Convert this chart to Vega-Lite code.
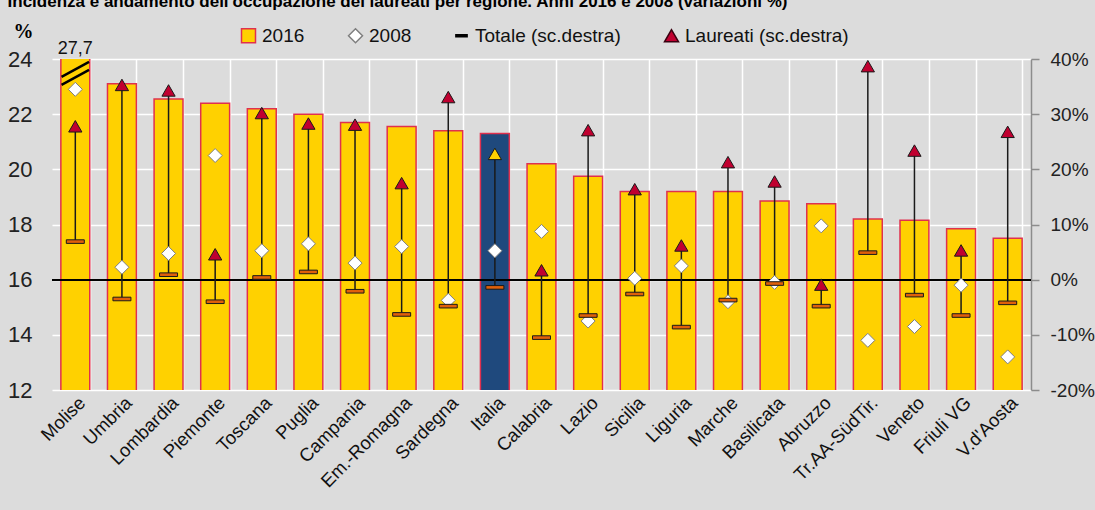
{
  "$schema": "https://vega.github.io/schema/vega-lite/v6.json",
  "width": 979,
  "height": 331,
  "autosize": {"type": "none"},
  "padding": {"left": 52, "top": 59, "right": 64, "bottom": 120},
  "background": "#DCDCDC",
  "title": {
    "text": "Incidenza e andamento dell'occupazione dei laureati per regione. Anni 2016 e 2008 (variazioni %)",
    "anchor": "start",
    "frame": "bounds",
    "font": "Liberation Sans",
    "fontSize": 17,
    "fontWeight": "bold",
    "color": "#000000",
    "dx": 0,
    "offset": 10
  },
  "config": {
    "locale": {"number": {"decimal": ",", "thousands": ".", "grouping": [3], "currency": ["", " €"]}},
    "view": {"stroke": null, "fill": "#DCDCDC"},
    "legend": {
      "orient": "none",
      "legendX": 187,
      "legendY": -33,
      "direction": "horizontal",
      "padding": 0,
      "labelFont": "Liberation Sans",
      "labelFontSize": 19,
      "labelColor": "#111111",
      "labelOffset": 4,
      "labelLimit": 400,
      "columnPadding": 40,
      "symbolSize": 196,
      "symbolStrokeWidth": 1.5
    }
  },
  "data": {
    "values": [
      {"region": "Molise", "v2016": 27.7, "v2008": 22.9, "tot": 6.9, "laur": 27.8},
      {"region": "Umbria", "v2016": 23.1, "v2008": 16.45, "tot": -3.5, "laur": 35.3},
      {"region": "Lombardia", "v2016": 22.55, "v2008": 16.95, "tot": 0.9, "laur": 34.3},
      {"region": "Piemonte", "v2016": 22.4, "v2008": 20.5, "tot": -4.0, "laur": 4.6},
      {"region": "Toscana", "v2016": 22.2, "v2008": 17.05, "tot": 0.4, "laur": 30.2},
      {"region": "Puglia", "v2016": 22.0, "v2008": 17.3, "tot": 1.4, "laur": 28.3},
      {"region": "Campania", "v2016": 21.7, "v2008": 16.6, "tot": -2.1, "laur": 28.1},
      {"region": "Em.-Romagna", "v2016": 21.55, "v2008": 17.2, "tot": -6.3, "laur": 17.5},
      {"region": "Sardegna", "v2016": 21.4, "v2008": 15.25, "tot": -4.8, "laur": 33.1},
      {"region": "Italia", "v2016": 21.3, "v2008": 17.05, "tot": -1.4, "laur": 22.8},
      {"region": "Calabria", "v2016": 20.2, "v2008": 17.75, "tot": -10.5, "laur": 1.7},
      {"region": "Lazio", "v2016": 19.75, "v2008": 14.5, "tot": -6.5, "laur": 27.1},
      {"region": "Sicilia", "v2016": 19.2, "v2008": 16.05, "tot": -2.6, "laur": 16.4},
      {"region": "Liguria", "v2016": 19.2, "v2008": 16.5, "tot": -8.6, "laur": 6.2},
      {"region": "Marche", "v2016": 19.2, "v2008": 15.2, "tot": -3.7, "laur": 21.3},
      {"region": "Basilicata", "v2016": 18.85, "v2008": 15.9, "tot": -0.7, "laur": 17.8},
      {"region": "Abruzzo", "v2016": 18.75, "v2008": 17.95, "tot": -4.8, "laur": -0.9},
      {"region": "Tr.AA-SüdTir.", "v2016": 18.2, "v2008": 13.8, "tot": 4.9, "laur": 38.7},
      {"region": "Veneto", "v2016": 18.15, "v2008": 14.3, "tot": -2.8, "laur": 23.4},
      {"region": "Friuli VG", "v2016": 17.85, "v2008": 15.8, "tot": -6.5, "laur": 5.3},
      {"region": "V.d'Aosta", "v2016": 17.5, "v2008": 13.2, "tot": -4.2, "laur": 26.8}
    ]
  },
  "encoding": {
    "x": {
      "field": "region",
      "type": "nominal",
      "sort": null,
      "scale": {"paddingInner": 0.38, "paddingOuter": 0.19},
      "axis": {
        "title": null,
        "domain": false,
        "ticks": false,
        "tickBand": "extent",
        "grid": true,
        "gridColor": "#FFFFFF",
        "gridWidth": 1.5,
        "labelAngle": -45,
        "labelAlign": "right",
        "labelBaseline": "top",
        "labelPadding": 3,
        "labelFont": "Liberation Sans",
        "labelFontSize": 18.5,
        "labelColor": "#111111"
      }
    }
  },
  "layer": [
    {
      "mark": {"type": "bar", "clip": true, "stroke": "#E0304E", "strokeWidth": 1.5},
      "encoding": {
        "y": {
          "field": "v2016",
          "type": "quantitative",
          "scale": {"domain": [12, 24], "zero": false, "nice": false},
          "axis": {
            "orient": "left",
            "values": [12, 14, 16, 18, 20, 22, 24],
            "domain": false,
            "ticks": false,
            "grid": true,
            "gridColor": "#FFFFFF",
            "gridWidth": 1.5,
            "labelFont": "Liberation Sans",
            "labelFontSize": 22,
            "labelColor": "#222222",
            "labelPadding": 20,
            "title": "%",
            "titleAngle": 0,
            "titleFont": "Liberation Serif",
            "titleFontSize": 20,
            "titleFontWeight": "bold",
            "titleAlign": "left",
            "titleBaseline": "top",
            "titleX": -39,
            "titleY": -38
          }
        },
        "fill": {
          "datum": "2016",
          "condition": {"test": "datum.region === 'Italia'", "value": "#1F497D"},
          "scale": {
            "domain": ["2016", "2008", "Totale (sc.destra)", "Laureati (sc.destra)"],
            "range": ["#FFD100", "#FFFFFF", "#000000", "#C00030"]
          },
          "legend": {"title": null}
        }
      }
    },
    {
      "transform": [{"filter": "datum.v2016 > 24"}],
      "mark": {
        "type": "point",
        "shape": "M-0.86,0.22L0.86,-0.72M-0.86,0.72L0.86,-0.22",
        "size": 1024,
        "filled": false,
        "stroke": "#000000",
        "strokeWidth": 2.4,
        "opacity": 1
      },
      "encoding": {
        "y": {"datum": 23.48, "type": "quantitative", "scale": {"domain": [12, 24], "zero": false, "nice": false}, "axis": null}
      }
    },
    {
      "transform": [{"filter": "datum.v2016 > 24"}],
      "mark": {"type": "text", "font": "Liberation Sans", "fontSize": 18, "color": "#111111", "baseline": "alphabetic", "dy": -5},
      "encoding": {
        "y": {"datum": 24, "type": "quantitative", "scale": {"domain": [12, 24], "zero": false, "nice": false}, "axis": null},
        "text": {"field": "v2016", "type": "quantitative", "format": ".1f"}
      }
    },
    {
      "mark": {"type": "rule", "color": "#000000", "strokeWidth": 1.2},
      "encoding": {
        "x": {"value": 0},
        "x2": {"value": 979},
        "y": {"datum": 16, "type": "quantitative", "scale": {"domain": [12, 24], "zero": false, "nice": false}, "axis": null}
      }
    },
    {
      "mark": {"type": "rule", "color": "#1A1A1A", "strokeWidth": 1.5},
      "encoding": {
        "y": {
          "field": "tot",
          "type": "quantitative",
          "scale": {"domain": [-20, 40], "zero": false, "nice": false},
          "axis": {
            "orient": "right",
            "values": [-20, -10, 0, 10, 20, 30, 40],
            "labelExpr": "datum.value + '%'",
            "domain": true,
            "domainColor": "#8C8C8C",
            "domainWidth": 1.5,
            "ticks": true,
            "tickColor": "#8C8C8C",
            "tickSize": 8,
            "tickWidth": 1.5,
            "grid": false,
            "labelFont": "Liberation Sans",
            "labelFontSize": 19,
            "labelColor": "#222222",
            "labelPadding": 11,
            "title": null
          }
        },
        "y2": {"field": "laur"}
      }
    },
    {
      "mark": {"type": "point", "shape": "diamond", "filled": true, "size": 196, "stroke": "#7F7F7F", "strokeWidth": 1, "opacity": 1},
      "encoding": {
        "y": {"field": "v2008", "type": "quantitative", "scale": {"domain": [12, 24], "zero": false, "nice": false}, "axis": null},
        "fill": {
          "datum": "2008",
          "scale": {
            "domain": ["2016", "2008", "Totale (sc.destra)", "Laureati (sc.destra)"],
            "range": ["#FFD100", "#FFFFFF", "#000000", "#C00030"]
          },
          "legend": {"title": null}
        },
        "shape": {
          "datum": "2008",
          "scale": {
            "domain": ["2016", "2008", "Totale (sc.destra)", "Laureati (sc.destra)"],
            "range": ["square", "diamond", "M-0.8,-0.14H0.8V0.14H-0.8Z", "triangle-up"]
          },
          "legend": {"title": null}
        },
        "stroke": {
          "datum": "2008",
          "scale": {
            "domain": ["2016", "2008", "Totale (sc.destra)", "Laureati (sc.destra)"],
            "range": ["#E0304E", "#7F7F7F", "#000000", "#3A0010"]
          },
          "legend": {"title": null}
        }
      }
    },
    {
      "mark": {"type": "point", "shape": "M-1,-0.2H1V0.2H-1Z", "filled": true, "size": 324, "fill": "#E0600A", "stroke": "#1A1A1A", "strokeWidth": 1, "opacity": 1},
      "encoding": {
        "y": {"field": "tot", "type": "quantitative", "scale": {"domain": [-20, 40], "zero": false, "nice": false}, "axis": null}
      }
    },
    {
      "mark": {"type": "point", "shape": "triangle-up", "filled": true, "size": 175, "stroke": "#1A1A1A", "strokeWidth": 1, "opacity": 1},
      "encoding": {
        "y": {"field": "laur", "type": "quantitative", "scale": {"domain": [-20, 40], "zero": false, "nice": false}, "axis": null},
        "fill": {
          "datum": "Laureati (sc.destra)",
          "condition": {"test": "datum.region === 'Italia'", "value": "#FFD100"},
          "scale": {
            "domain": ["2016", "2008", "Totale (sc.destra)", "Laureati (sc.destra)"],
            "range": ["#FFD100", "#FFFFFF", "#000000", "#C00030"]
          },
          "legend": {"title": null}
        }
      }
    }
  ],
  "resolve": {"scale": {"y": "independent"}}
}
